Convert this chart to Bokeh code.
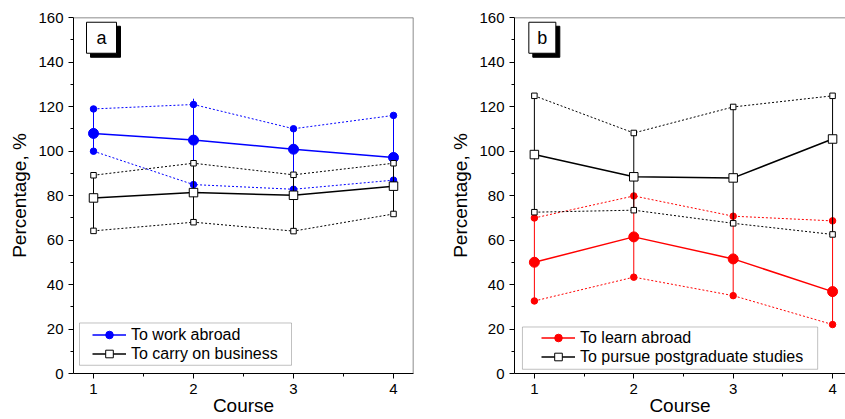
from bokeh.plotting import figure
from bokeh.layouts import row
from bokeh.models import Range1d, Span, Legend, LegendItem, Label, FixedTicker, BoxAnnotation
from bokeh.embed import file_html
from bokeh.resources import INLINE

course = [1, 2, 3, 4]

# Panel a
work_mean = [107.9, 104.9, 100.8, 97.1]
work_upper = [118.9, 120.9, 110.0, 116.0]
work_lower = [99.9, 84.9, 82.8, 86.9]
work_bar_top = [118.9, 123.5, 110.0, 116.0]
business_mean = [78.9, 81.3, 80.1, 84.2]
business_upper = [89.1, 94.5, 89.3, 94.5]
business_lower = [64.1, 68.0, 64.0, 71.7]

# Panel b
learn_mean = [50.0, 61.4, 51.5, 36.8]
learn_upper = [69.9, 79.8, 70.7, 68.6]
learn_lower = [32.6, 43.3, 35.0, 22.0]
post_mean = [98.4, 88.4, 87.9, 105.4]
post_upper = [124.8, 108.1, 119.8, 124.8]
post_lower = [72.5, 73.4, 67.5, 62.5]

y_ticks = [0, 20, 40, 60, 80, 100, 120, 140, 160]
y_minor = [10, 30, 50, 70, 90, 110, 130, 150]
x_minor = [1.5, 2.5, 3.5]

FONT = "Liberation Sans"
FRAME_GRAY = "#666666"


def draw_series(p, mean, upper, lower, bar_top, color, marker, big, small, fill):
    p.line(course, upper, line_color=color, line_width=1, line_dash="2 2")
    p.line(course, lower, line_color=color, line_width=1, line_dash="2 2")
    p.segment(x0=course, y0=lower, x1=course, y1=bar_top, line_color=color, line_width=1)
    ln = p.line(course, mean, line_color=color, line_width=1.5)
    p.scatter(course, upper, marker=marker, size=small, fill_color=fill, line_color=color, line_width=1)
    p.scatter(course, lower, marker=marker, size=small, fill_color=fill, line_color=color, line_width=1)
    sc = p.scatter(course, mean, marker=marker, size=big, fill_color=fill, line_color=color, line_width=1)
    return ln, sc


def make_panel(width, x_end, min_left, min_right, letter, box_w, series, box, legend_loc, right_frame):
    p = figure(width=width, height=418, x_range=Range1d(0.8, x_end), y_range=Range1d(0, 160),
               output_backend="svg", toolbar_location=None,
               min_border_left=min_left, min_border_right=min_right, min_border_top=17, min_border_bottom=45)
    p.outline_line_color = None
    p.xgrid.visible = False
    p.ygrid.visible = False
    p.background_fill_color = "white"
    p.border_fill_color = "white"

    p.xaxis.ticker = FixedTicker(ticks=course, minor_ticks=x_minor)
    p.yaxis.ticker = FixedTicker(ticks=y_ticks, minor_ticks=y_minor)
    for ax in (p.xaxis, p.yaxis):
        ax.axis_line_color = "black"
        ax.axis_line_width = 1
        ax.major_tick_in = 0
        ax.major_tick_out = 5
        ax.minor_tick_in = 0
        ax.minor_tick_out = 3
        ax.major_tick_line_color = "black"
        ax.minor_tick_line_color = "black"
        ax.major_label_text_font = FONT
        ax.major_label_text_font_size = "15px"
        ax.major_label_text_color = "black"
        ax.axis_label_text_font = FONT
        ax.axis_label_text_font_size = "19px"
        ax.axis_label_text_font_style = "normal"
        ax.axis_label_text_color = "black"
    p.xaxis.axis_label = "Course"
    p.yaxis.axis_label = "Percentage, %"
    p.xaxis.major_label_standoff = 5
    p.xaxis.axis_label_standoff = -2
    p.yaxis.major_label_standoff = 5
    p.yaxis.axis_label_standoff = 5

    p.add_layout(Span(location=160, dimension="width", line_color=FRAME_GRAY, line_width=1.5))
    if right_frame:
        p.add_layout(Span(location=x_end, dimension="height", line_color=FRAME_GRAY, line_width=1.5))

    items = []
    for s in series:
        ln, sc = draw_series(p, *s[1:])
        items.append(LegendItem(label=s[0], renderers=[ln, sc]))

    # legend frame
    p.add_layout(BoxAnnotation(left=box[0], right=box[1], bottom=box[2], top=box[3],
                               fill_color="white", fill_alpha=1, line_color="#333333", line_width=1))
    legend = Legend(items=items, location=legend_loc, padding=2, spacing=0, margin=0,
                    glyph_width=34, glyph_height=19, label_height=19, label_standoff=5,
                    label_text_font=FONT, label_text_font_size="16px", label_text_color="black",
                    border_line_color=None, background_fill_alpha=0)
    p.add_layout(legend, "center")

    # panel letter with shadow
    p.rect(x=[1.08 + 0.04], y=[150.9 - 1.8], width=box_w, height=31, width_units="screen",
           height_units="screen", fill_color="black", line_color="black")
    p.rect(x=[1.08], y=[150.9], width=box_w, height=31, width_units="screen",
           height_units="screen", fill_color="white", line_color="black", line_width=1)
    p.add_layout(Label(x=1.08, y=150.9, text=letter, text_align="center", text_baseline="middle",
                       text_font=FONT, text_font_size="18px", text_color="black"))
    return p


series_a = [
    ("To work abroad", work_mean, work_upper, work_lower, work_bar_top, "#0000FF", "circle", 10, 6.5, "#0000FF"),
    ("To carry on business", business_mean, business_upper, business_lower, business_upper, "black", "square", 8.5, 5.5, "white"),
]
series_b = [
    ("To learn abroad", learn_mean, learn_upper, learn_lower, learn_upper, "#FF0000", "circle", 10, 6.5, "#FF0000"),
    ("To pursue postgraduate studies", post_mean, post_upper, post_lower, post_upper, "black", "square", 8.5, 5.5, "white"),
]

pa = make_panel(447, 4.2, 73, 34, "a", 30, series_a, (0.86, 2.98, 3.7, 22.7), (19, 10), True)
pb = make_panel(398, 4.13, 65, 0, "b", 27, series_b, (0.88, 3.85, 1.9, 20.9), (27, 7), False)

layout = row(pa, pb)
open("out.html", "w").write(file_html(layout, INLINE))
